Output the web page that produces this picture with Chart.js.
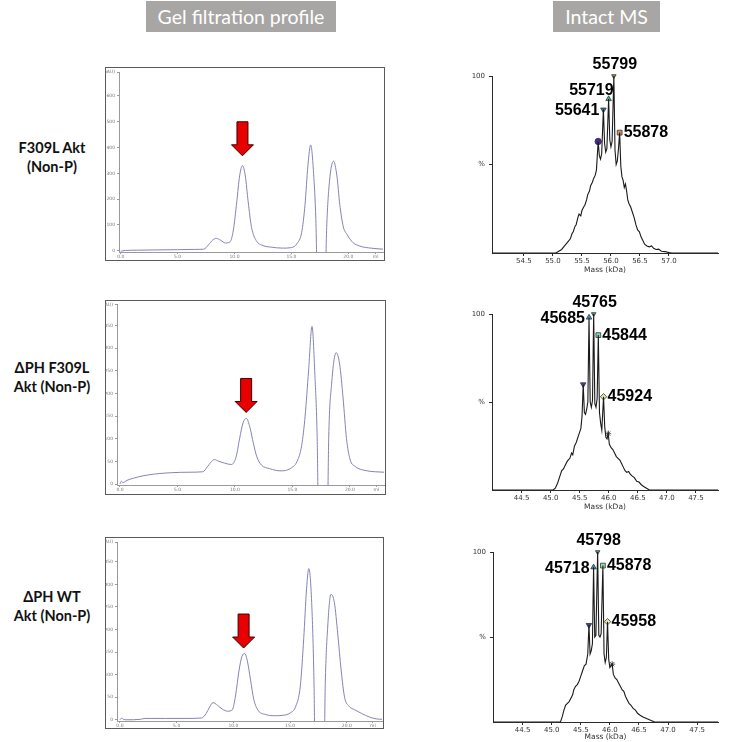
<!DOCTYPE html>
<html>
<head>
<meta charset="utf-8">
<script src="https://cdn.jsdelivr.net/npm/chart.js@4.4.1/dist/chart.umd.min.js"></script>
<style>
  body { margin: 0; background: #fff; width: 732px; height: 742px; position: relative; overflow: hidden; font-family: Lato, sans-serif; }
  .hdr { position: absolute; top: 1px; height: 31px; line-height: 31px; background: #a8a6a5; color: #fff; font-size: 19.5px; text-align: center; }
  .row { position: absolute; left: 0; width: 104px; text-align: center; font-weight: bold; font-size: 14.5px; line-height: 19px; color: #111; }
  canvas { position: absolute; display: block; }
</style>
</head>
<body>
<div class="hdr" style="left:146px;width:190px">Gel filtration profile</div>
<div class="hdr" style="left:553px;width:107px">Intact MS</div>

<div class="row" style="top:138px">F309L Akt<br>(Non-P)</div>
<div class="row" style="top:358px">ΔPH F309L<br>Akt (Non-P)</div>
<div class="row" style="top:587px">ΔPH WT<br>Akt (Non-P)</div>

<canvas id="gel1"></canvas>
<canvas id="gel2"></canvas>
<canvas id="gel3"></canvas>
<canvas id="ms1"></canvas>
<canvas id="ms2"></canvas>
<canvas id="ms3"></canvas>

<script>
// ---- gel filtration traces (elution volume in ml, absorbance in mAU) ----
const gel1Ml  = [0, 0.4, 1.5, 3, 5, 6.5, 7.3, 7.7, 8.1, 8.4, 8.8, 9.2, 9.6, 9.9, 10.2, 10.45, 10.7, 10.95, 11.2, 11.5, 11.9, 12.5, 13.2, 14.2, 15.0, 15.5, 15.9, 16.2, 16.45, 16.7, 16.95, 17.15, 17.3, 17.95, 18.1, 18.35, 18.7, 19.0, 19.25, 19.55, 19.9, 20.4, 21.0, 22.0, 23.05];
const gel1Mau = [-2, 1, 2, 3, 4, 5, 6, 22, 42, 48, 40, 30, 34, 80, 190, 290, 330, 290, 190, 90, 40, 20, 14, 10, 12, 28, 70, 180, 330, 410, 300, 120, -150, -150, 90, 270, 347, 290, 180, 95, 62, 32, 18, 10, 6];

const gel2Ml  = [0, 0.12, 0.25, 0.6, 1.2, 2.0, 3.0, 4.5, 6.0, 7.2, 7.6, 7.9, 8.2, 8.6, 9.1, 9.7, 10.1, 10.4, 10.7, 11.0, 11.3, 11.6, 11.9, 12.3, 13.0, 14.0, 14.8, 15.4, 15.8, 16.1, 16.4, 16.7, 16.95, 17.15, 17.3, 18.0, 18.15, 18.4, 18.8, 19.1, 19.4, 19.7, 20.0, 20.5, 21.3, 22.2, 22.96];
const gel2Mau = [0, 6, 3, 8, 13, 18, 22, 25, 26, 27, 38, 48, 54, 50, 46, 43, 60, 100, 135, 145, 125, 90, 60, 42, 34, 29, 34, 50, 85, 150, 250, 348, 240, 100, -150, -150, 100, 220, 290, 265, 190, 100, 55, 38, 30, 27, 26];

const gel3Ml  = [0, 0.15, 0.3, 0.6, 1.8, 2.2, 4, 6, 7.2, 7.6, 7.9, 8.2, 8.6, 9.0, 9.5, 9.9, 10.2, 10.5, 10.75, 11.0, 11.25, 11.5, 11.8, 12.2, 12.8, 13.6, 14.4, 15.0, 15.5, 15.9, 16.2, 16.45, 16.65, 16.9, 17.1, 17.25, 17.95, 18.1, 18.3, 18.6, 18.9, 19.2, 19.5, 19.8, 20.2, 20.7, 21.3, 22.0, 22.6, 23.1];
const gel3Mau = [0, 4, 1, 0, 1, 3, 3, 3, 4, 14, 28, 38, 32, 24, 19, 22, 55, 110, 140, 147, 128, 90, 45, 20, 12, 9, 10, 15, 30, 75, 180, 290, 335, 260, 90, -150, -150, 80, 200, 278, 260, 190, 110, 50, 30, 22, 14, 6, 2, 1];

// arrow pointing at the peak of interest: [ml, mAU at arrow tip]
const gel1Arrow = [10.7, 368];
const gel2Arrow = [10.97, 158];
const gel3Arrow = [10.9, 159];

// axis ticks of the gel plots
const gel1YTicks = [0, 100, 200, 300, 400, 500, 600];
const gel23YTicks = [0, 50, 100, 150, 200, 250, 300, 350];
const gelXTicks = [0, 5, 10, 15, 20];
const gelYUnit = '(mAU)';
const gelXUnit = 'ml';

// ---- deconvoluted intact mass spectra (mass in kDa, relative intensity %) ----
const ms1Mass = [53.95, 55.05, 55.10, 55.15, 55.20, 55.25, 55.30, 55.33, 55.35, 55.38, 55.40, 55.43, 55.45, 55.48, 55.50, 55.53, 55.55, 55.58, 55.60, 55.63, 55.65, 55.68, 55.70, 55.73, 55.75, 55.78, 55.80, 55.82, 55.84, 55.87, 55.89, 55.91, 55.93, 55.96, 55.98, 56.00, 56.02, 56.05, 56.07, 56.09, 56.11, 56.13, 56.15, 56.17, 56.19, 56.21, 56.23, 56.25, 56.27, 56.29, 56.31, 56.34, 56.37, 56.40, 56.43, 56.46, 56.49, 56.52, 56.55, 56.58, 56.62, 56.66, 56.70, 56.74, 56.78, 56.82, 56.87, 56.93, 57.00, 57.05, 57.85];
const ms1Int  = [0, 0, 1, 2, 4, 6, 8, 11, 12, 15, 16, 20, 22, 21, 24, 26, 27, 30, 33, 35, 38, 40, 42, 44, 47, 63, 55, 53, 56, 81, 62, 57, 59, 87, 64, 60, 63, 100, 58, 50, 52, 59, 68, 49, 43, 41, 37, 39, 35, 30, 28, 26, 23, 20, 16, 13, 12, 9, 7, 5, 4, 3.5, 4, 2.5, 2, 2.2, 1, 0.8, 0.2, 0, 0];

const ms2Mass = [43.99, 45.04, 45.08, 45.12, 45.16, 45.19, 45.22, 45.25, 45.28, 45.30, 45.33, 45.36, 45.38, 45.41, 45.44, 45.47, 45.50, 45.52, 45.54, 45.56, 45.58, 45.60, 45.62, 45.64, 45.66, 45.68, 45.70, 45.72, 45.74, 45.76, 45.78, 45.80, 45.82, 45.84, 45.86, 45.88, 45.91, 45.93, 45.95, 45.97, 45.99, 46.01, 46.04, 46.07, 46.10, 46.13, 46.16, 46.19, 46.22, 46.25, 46.28, 46.31, 46.34, 46.37, 46.40, 46.44, 46.48, 46.52, 46.56, 46.60, 46.65, 46.70, 47.88];
const ms2Int  = [0, 0, 1, 4, 8, 11, 12, 14, 16, 17, 18, 21, 20, 25, 27, 30, 33, 35, 42, 60, 44, 43, 46, 50, 98, 50, 47, 51, 100, 49, 47, 52, 88, 44, 38, 34, 53, 36, 30, 29, 32, 26, 24, 23, 21, 19, 18, 17, 15, 13, 11, 10, 10.5, 9, 8, 7, 5, 4.5, 3, 2, 1, 0, 0];

const ms3Mass = [43.99, 45.15, 45.18, 45.21, 45.24, 45.27, 45.30, 45.33, 45.36, 45.38, 45.41, 45.44, 45.47, 45.50, 45.53, 45.56, 45.59, 45.62, 45.64, 45.66, 45.68, 45.70, 45.72, 45.74, 45.76, 45.79, 45.81, 45.83, 45.85, 45.88, 45.90, 45.92, 45.94, 45.96, 45.98, 46.00, 46.02, 46.04, 46.06, 46.09, 46.12, 46.15, 46.18, 46.21, 46.24, 46.27, 46.30, 46.33, 46.36, 46.40, 46.44, 46.48, 46.52, 46.57, 46.63, 46.70, 46.77, 47.86];
const ms3Int  = [0, 0, 3, 7, 10, 11, 12, 14, 16, 19, 21, 22, 24, 27, 30, 33, 34, 40, 57, 40, 42, 46, 91, 50, 51, 100, 51, 50, 52, 92, 40, 35, 38, 59, 37, 32, 33, 34, 28, 26, 25, 23, 21, 19, 18, 15, 13, 11, 10, 8, 7, 5, 4, 3, 2, 1, 0, 0];

// annotated peaks (marker position + label)
const ms1PeakMass = [55.78, 55.87, 55.96, 56.05, 56.15];
const ms1PeakInt  = [63, 81, 87, 100, 68];
const ms1PeakText = ['', '55641', '55719', '55799', '55878'];

const ms2PeakMass = [45.56, 45.66, 45.74, 45.82, 45.91, 45.99];
const ms2PeakInt  = [60, 98, 100, 88, 53, 32];
const ms2PeakText = ['', '45685', '45765', '45844', '45924', ''];

const ms3PeakMass = [45.64, 45.72, 45.79, 45.88, 45.96, 46.04];
const ms3PeakInt  = [57, 91, 100, 92, 59, 34];
const ms3PeakText = ['', '45718', '45798', '45878', '45958', ''];

const ms1XTicks = [54.5, 55.0, 55.5, 56.0, 56.5, 57.0];
const ms23XTicks = [44.5, 45.0, 45.5, 46.0, 46.5, 47.0, 47.5];
const msYTicks = [50, 100];

Chart.defaults.animation = false;
Chart.defaults.font.family = "'DejaVu Sans', sans-serif";

const pts = (xs, ys) => xs.map((x, i) => ({ x, y: ys[i] }));

// place a canvas so that its plot area lands on the given page box
function place(id, g) {
  const c = document.getElementById(id);
  c.width = g.w; c.height = g.h;
  c.style.left = g.left + 'px'; c.style.top = g.top + 'px';
  return {
    canvas: c,
    padding: { left: 0, top: g.pTop - g.top, right: g.left + g.w - g.pRight, bottom: g.top + g.h - g.pBottom - g.xH },
    yW: g.pLeft - g.left,
    xH: g.xH,
  };
}

const framePlugin = {
  id: 'frame',
  beforeDraw(chart) {
    const ctx = chart.ctx;
    ctx.save();
    ctx.fillStyle = '#fff';
    ctx.fillRect(0, 0, chart.width, chart.height);
    ctx.strokeStyle = '#5a5a5a';
    ctx.lineWidth = 1;
    ctx.strokeRect(0.5, 0.5, chart.width - 1, chart.height - 1);
    ctx.restore();
  }
};

const arrowPlugin = {
  id: 'gelArrow',
  afterDatasetsDraw(chart, args, opts) {
    const x = chart.scales.x.getPixelForValue(opts.at[0]);
    const y = chart.scales.y.getPixelForValue(opts.at[1]);
    const ctx = chart.ctx;
    ctx.save();
    ctx.beginPath();
    ctx.moveTo(x, y);
    ctx.lineTo(x - 11, y - 11);
    ctx.lineTo(x - 5.5, y - 11);
    ctx.lineTo(x - 5.5, y - 34);
    ctx.lineTo(x + 5.5, y - 34);
    ctx.lineTo(x + 5.5, y - 11);
    ctx.lineTo(x + 11, y - 11);
    ctx.closePath();
    ctx.fillStyle = '#e80000';
    ctx.fill();
    ctx.strokeStyle = '#3a0000';
    ctx.lineWidth = 1;
    ctx.stroke();
    ctx.restore();
  }
};

const peakLabelPlugin = {
  id: 'peakLabels',
  afterDatasetsDraw(chart, args, opts) {
    const marks = chart.getDatasetMeta(1).data;
    const ctx = chart.ctx;
    ctx.save();
    ctx.font = 'bold 16px "Liberation Sans", Arial, sans-serif';
    ctx.fillStyle = '#000';
    ctx.textBaseline = 'middle';
    opts.texts.forEach((t, i) => {
      if (!t) return;
      const p = marks[i];
      const side = opts.sides[i];
      if (side === 'above') { ctx.textAlign = 'center'; ctx.fillText(t, p.x + 1, p.y - 11); }
      else if (side === 'left') { ctx.textAlign = 'right'; ctx.fillText(t, p.x - 4, p.y + 1); }
      else if (side === 'aboveLeft') { ctx.textAlign = 'right'; ctx.fillText(t, p.x + 5, p.y - 8); }
      else { ctx.textAlign = 'left'; ctx.fillText(t, p.x + 4, p.y); }
    });
    ctx.restore();
  }
};

function gelChart(id, geo, ml, mau, yTicks, yMin, yMax, xMin, xMax, xUnitAt, arrow) {
  const p = place(id, geo);
  const axisCol = '#9a9a9a';
  return new Chart(p.canvas, {
    type: 'line',
    data: {
      datasets: [{
        data: pts(ml, mau),
        borderColor: '#8484b8',
        borderWidth: 1,
        pointRadius: 0,
        cubicInterpolationMode: 'monotone',
      }]
    },
    options: {
      responsive: false,
      layout: { padding: p.padding },
      plugins: { legend: { display: false }, tooltip: { enabled: false }, gelArrow: { at: arrow } },
      scales: {
        x: {
          type: 'linear', min: xMin, max: xMax,
          afterBuildTicks: a => { a.ticks = gelXTicks.concat([xUnitAt]).map(v => ({ value: v })); },
          afterFit: s => { s.height = p.xH; },
          grid: { drawOnChartArea: false, tickLength: 2, color: axisCol },
          border: { color: axisCol },
          ticks: { autoSkip: false, maxRotation: 0, padding: 0, color: '#777', font: { size: 4.5 },
                   callback: v => v === xUnitAt ? gelXUnit : v.toFixed(1) },
        },
        y: {
          min: yMin, max: yMax,
          afterBuildTicks: a => { a.ticks = yTicks.concat([yMax]).map(v => ({ value: v })); },
          afterFit: s => { s.width = p.yW; },
          grid: { drawOnChartArea: false, tickLength: 2, color: axisCol },
          border: { color: axisCol },
          ticks: { autoSkip: false, padding: 2, color: '#777', font: { size: 4.5 },
                   callback: v => v === yMax ? gelYUnit : String(v) },
        }
      }
    },
    plugins: [framePlugin, arrowPlugin]
  });
}

function msChart(id, geo, mass, inten, pMass, pInt, pText, sides, xTicks, xMin, xMax, marks) {
  const p = place(id, geo);
  const axisCol = '#2a2a2a';
  return new Chart(p.canvas, {
    type: 'line',
    data: {
      datasets: [{
        data: pts(mass, inten),
        borderColor: '#1a1a1a',
        borderWidth: 1.1,
        pointRadius: 0,
        tension: 0,
      }, {
        data: pts(pMass, pInt),
        showLine: false,
        clip: false,
        pointStyle: marks.style,
        pointRotation: marks.rot,
        pointRadius: marks.r,
        backgroundColor: marks.fill,
        borderColor: '#333',
        borderWidth: 0.8,
      }]
    },
    options: {
      responsive: false,
      layout: { padding: p.padding },
      plugins: { legend: { display: false }, tooltip: { enabled: false }, peakLabels: { texts: pText, sides } },
      scales: {
        x: {
          type: 'linear', min: xMin, max: xMax,
          afterBuildTicks: a => { a.ticks = xTicks.map(v => ({ value: v })); },
          afterFit: s => { s.height = p.xH; },
          grid: { drawOnChartArea: false, tickLength: 3, color: axisCol },
          border: { color: axisCol },
          title: { display: true, text: 'Mass (kDa)', color: '#333', font: { size: 7.5 }, padding: 0 },
          ticks: { autoSkip: false, maxRotation: 0, padding: 1, color: '#333', font: { size: 7 },
                   callback: v => v.toFixed(1) },
        },
        y: {
          min: 0, max: 100,
          afterBuildTicks: a => { a.ticks = msYTicks.map(v => ({ value: v })); },
          afterFit: s => { s.width = p.yW; },
          grid: { drawOnChartArea: false, tickLength: 3, color: axisCol },
          border: { color: axisCol },
          ticks: { autoSkip: false, padding: 4, color: '#333', font: { size: 7 },
                   callback: v => v === 50 ? '%' : String(v) },
        }
      }
    },
    plugins: [peakLabelPlugin]
  });
}

gelChart('gel1', { left: 105, top: 67, w: 280, h: 194, pLeft: 119, pTop: 72, pRight: 383, pBottom: 252, xH: 9 },
  gel1Ml, gel1Mau, gel1YTicks, -5, 693, -0.15, 23.05, 22.4, gel1Arrow);
gelChart('gel2', { left: 105, top: 300, w: 281, h: 195, pLeft: 117, pTop: 304, pRight: 384, pBottom: 485, xH: 10 },
  gel2Ml, gel2Mau, gel23YTicks, -2.2, 396, -0.26, 22.96, 22.3, gel2Arrow);
gelChart('gel3', { left: 105, top: 537, w: 279, h: 192, pLeft: 117, pTop: 542, pRight: 382, pBottom: 721, xH: 8 },
  gel3Ml, gel3Mau, gel23YTicks, -2.7, 394, -0.26, 23.1, 22.3, gel3Arrow);

msChart('ms1', { left: 460, top: 48, w: 264, h: 232, pLeft: 492, pTop: 76, pRight: 718, pBottom: 253, xH: 22 },
  ms1Mass, ms1Int, ms1PeakMass, ms1PeakInt, ms1PeakText, ['', 'left', 'aboveLeft', 'above', 'right'],
  ms1XTicks, 53.95, 57.845,
  { style: ['circle', 'triangle', 'triangle', 'triangle', 'rect'], rot: [0, 180, 0, 180, 0], r: [3.2, 3.2, 3.2, 2.6, 3.4],
    fill: ['#4b2a98', '#3b73b0', '#45b09a', '#9a9a40', '#d8925a'] });
msChart('ms2', { left: 460, top: 288, w: 264, h: 232, pLeft: 492, pTop: 314, pRight: 718, pBottom: 490, xH: 22 },
  ms2Mass, ms2Int, ms2PeakMass, ms2PeakInt, ms2PeakText, ['', 'left', 'above', 'right', 'right', ''],
  ms23XTicks, 43.99, 47.88,
  { style: ['triangle', 'triangle', 'triangle', 'rect', 'rectRot', 'star'], rot: [180, 0, 180, 0, 0, 0], r: [3.2, 3.2, 2.6, 3.4, 3.2, 3],
    fill: ['#44489e', '#46a0c8', '#4aa890', '#78d8b0', '#e6e6a8', '#c8a25a'] });
msChart('ms3', { left: 460, top: 523, w: 264, h: 219, pLeft: 493, pTop: 552, pRight: 718, pBottom: 722, xH: 20 },
  ms3Mass, ms3Int, ms3PeakMass, ms3PeakInt, ms3PeakText, ['', 'left', 'above', 'right', 'right', ''],
  ms23XTicks, 43.99, 47.86,
  { style: ['triangle', 'triangle', 'triangle', 'rect', 'rectRot', 'star'], rot: [180, 0, 180, 0, 0, 0], r: [3.2, 3.2, 2.6, 3.4, 3.2, 3],
    fill: ['#3a4896', '#3c98b8', '#4aa08c', '#90e0a8', '#efe6b0', '#c8a060'] });
</script>
</body>
</html>
